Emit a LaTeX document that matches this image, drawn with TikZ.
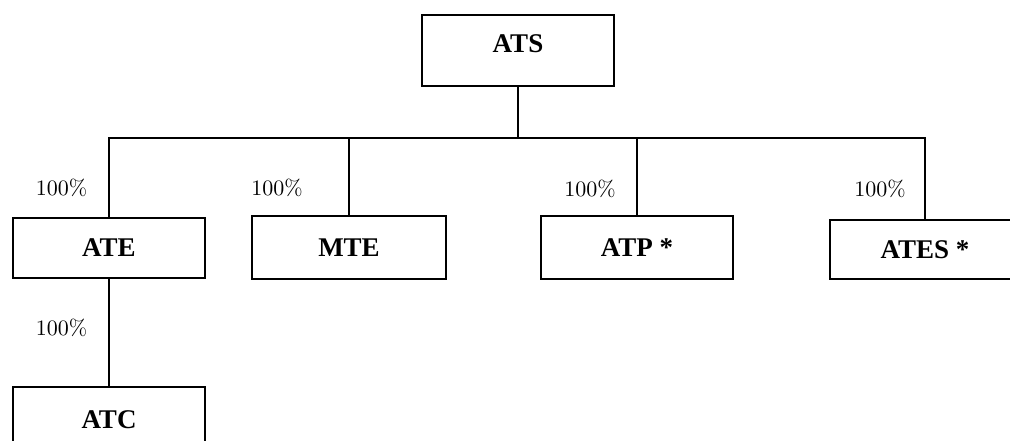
\documentclass[tikz,border=0pt]{standalone}
\usepackage{fontspec}
\newfontfamily\boxfont{Liberation Serif}
\newfontfamily\pctfont{lmroman10-regular}[Extension=.otf]
\begin{document}
\begin{tikzpicture}[x=1pt,y=-1pt,
  box/.style={draw=black,line width=1.8pt,rectangle,inner sep=0pt,
    font=\boxfont\bfseries\fontsize{27}{31}\selectfont},
  pct/.style={inner sep=0pt,font=\pctfont\fontsize{22}{26}\selectfont},
  conn/.style={line width=1.8pt}]
\useasboundingbox (0,0) rectangle (1010,441);
\clip (0,0) rectangle (1010,441);
\node[box,minimum width=192pt,minimum height=71pt,text depth=14pt] (ats) at (518,50.5) {ATS};
\node[box,minimum width=192pt,minimum height=60pt] (ate) at (109,248) {ATE};
\node[box,minimum width=194pt,minimum height=63pt] (mte) at (349,247.5) {MTE};
\node[box,minimum width=192pt,minimum height=63pt] (atp) at (637,247.5) {ATP *};
\node[box,minimum width=190pt,minimum height=59pt] (ates) at (925,249.5) {ATES *};
\node[box,minimum width=192pt,minimum height=66pt] (atc) at (109,420) {ATC};
\coordinate (busy) at (0,138);
\draw[conn] (ats.south) -- (ats.south |- busy);
\draw[conn] (ate.north) -- (ate.north |- busy) -- (ates.north |- busy) -- (ates.north);
\draw[conn] (mte.north) -- (mte.north |- busy);
\draw[conn] (atp.north) -- (atp.north |- busy);
\draw[conn] (ate.south) -- (atc.north);
\node[pct] (p1) at (61.5,188) {100\%};
\node[pct] (p2) at (277,188) {100\%};
\node[pct] (p3) at (590,189) {100\%};
\node[pct] (p4) at (880,189) {100\%};
\node[pct] (p5) at (61.5,328) {100\%};
\end{tikzpicture}
\end{document}
